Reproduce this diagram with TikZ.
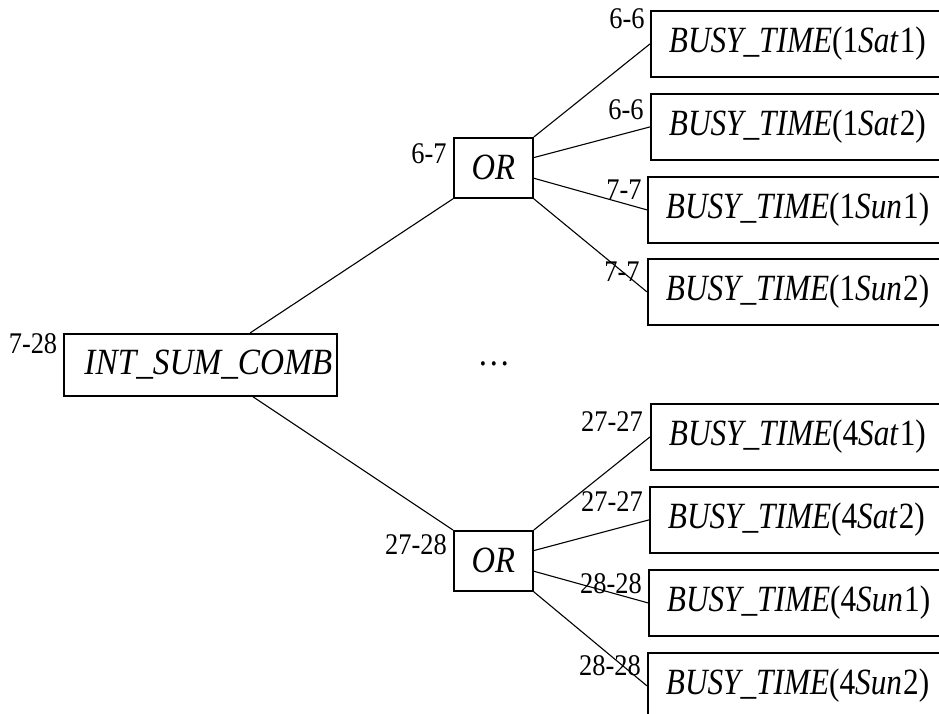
\documentclass[tikz,border=0pt]{standalone}
\usepackage{fontspec}
\setmainfont{Liberation Serif}
\newfontfamily\dgmfont[FakeStretch=0.88]{Liberation Serif}
\newfontfamily\intfont[FakeStretch=0.9]{Liberation Serif}
\newfontfamily\busyfont[FakeStretch=0.845]{Liberation Serif}
\usetikzlibrary{calc}
\begin{document}
\begin{tikzpicture}[x=1pt,y=-1pt,
  box/.style={draw,line width=1.8pt,inner sep=0pt,font=\dgmfont\fontsize{37}{44}\selectfont},
  busy/.style={box,anchor=north west,minimum height=66pt,text width=264pt,inner xsep=18pt,align=left,font=\busyfont\fontsize{37}{44}\selectfont},
  lab/.style={font=\dgmfont\fontsize{30}{36}\selectfont,inner sep=0pt},
  conn/.style={line width=1.1pt}]
\clip (0,0) rectangle (939,713);
% main box
\node[box,anchor=north west,minimum width=273pt,minimum height=62pt,font=\intfont\fontsize{37}{44}\selectfont] (int) at (63,333) {\hspace*{16pt}\textit{INT\_SUM\_COMB}};
\node[lab] (lint) at (33,344) {7-28};
% OR boxes
\node[box,anchor=north west,minimum width=79pt,minimum height=60pt] (ort) at (453,137) {\textit{OR}};
\node[box,anchor=north west,minimum width=79pt,minimum height=60pt] (orb) at (453,530) {\textit{OR}};
\node[lab] (lort) at (429,154) {6-7};
\node[lab] (lorb) at (416,545) {27-28};
% busy boxes
\node[busy] (b1) at (650,10) {\textit{BUSY\_TIME}(1\textit{Sat}\kern1pt 1)};
\node[busy] (b2) at (650,93) {\textit{BUSY\_TIME}(1\textit{Sat}\kern1pt 2)};
\node[busy] (b3) at (647,176) {\textit{BUSY\_TIME}(1\textit{Sun}\kern1pt 1)};
\node[busy] (b4) at (647,258) {\textit{BUSY\_TIME}(1\textit{Sun}\kern1pt 2)};
\node[busy] (b5) at (650,403) {\textit{BUSY\_TIME}(4\textit{Sat}\kern1pt 1)};
\node[busy] (b6) at (649,486) {\textit{BUSY\_TIME}(4\textit{Sat}\kern1pt 2)};
\node[busy] (b7) at (648,569) {\textit{BUSY\_TIME}(4\textit{Sun}\kern1pt 1)};
\node[busy] (b8) at (647,652) {\textit{BUSY\_TIME}(4\textit{Sun}\kern1pt 2)};
% labels
\node[lab] (l1) at (627,19) {6-6};
\node[lab] (l2) at (626,110) {6-6};
\node[lab] (l3) at (624,190) {7-7};
\node[lab] (l4) at (622,272) {7-7};
\node[lab] (l5) at (612,422) {27-27};
\node[lab] (l6) at (612,502) {27-27};
\node[lab] (l7) at (611,584) {28-28};
\node[lab] (l8) at (610,666) {28-28};
% ellipsis
\node[font=\dgmfont\fontsize{37}{44}\selectfont,inner sep=0pt] (dots) at (494,364) {…};
% connectors
\draw[conn] ([xshift=187pt]int.north west) -- (ort.south west);
\draw[conn] ([xshift=190pt]int.south west) -- (orb.north west);
\draw[conn] (ort.north east) -- (b1.west);
\draw[conn] ($(ort.north east)!0.333!(ort.south east)$) -- (b2.west);
\draw[conn] ($(ort.north east)!0.667!(ort.south east)$) -- (b3.west);
\draw[conn] (ort.south east) -- (b4.west);
\draw[conn] (orb.north east) -- (b5.west);
\draw[conn] ($(orb.north east)!0.333!(orb.south east)$) -- (b6.west);
\draw[conn] ($(orb.north east)!0.667!(orb.south east)$) -- (b7.west);
\draw[conn] (orb.south east) -- (b8.west);
\end{tikzpicture}
\end{document}
